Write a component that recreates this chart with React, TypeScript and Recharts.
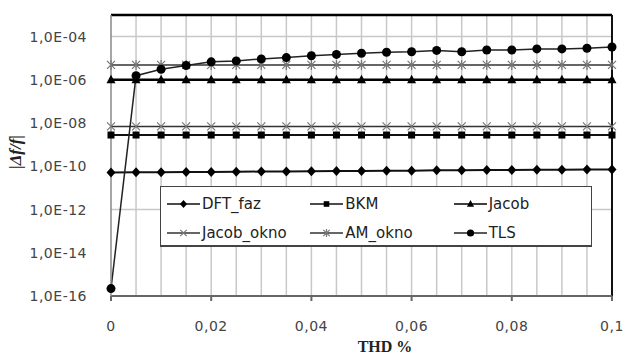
import { LineChart, Line, XAxis, YAxis, ReferenceLine, CartesianGrid } from 'recharts';

const thd = [0, 0.005, 0.01, 0.015, 0.02, 0.025, 0.03, 0.035, 0.04, 0.045, 0.05, 0.055, 0.06, 0.065, 0.07, 0.075, 0.08, 0.085, 0.09, 0.095, 0.1];
const dftFaz = [5.2e-11, 5.3e-11, 5.3e-11, 5.4e-11, 5.5e-11, 5.6e-11, 5.7e-11, 5.8e-11, 5.9e-11, 6.0e-11, 6.1e-11, 6.2e-11, 6.3e-11, 6.5e-11, 6.6e-11, 6.7e-11, 6.8e-11, 6.9e-11, 7.0e-11, 7.1e-11, 7.2e-11];
const bkm = [2.8e-9, 2.8e-9, 2.8e-9, 2.8e-9, 2.8e-9, 2.8e-9, 2.8e-9, 2.8e-9, 2.8e-9, 2.8e-9, 2.8e-9, 2.8e-9, 2.8e-9, 2.8e-9, 2.8e-9, 2.8e-9, 2.8e-9, 2.8e-9, 2.8e-9, 2.8e-9, 2.8e-9];
const jacob = [1e-6, 1e-6, 1e-6, 1e-6, 1e-6, 1e-6, 1e-6, 1e-6, 1e-6, 1e-6, 1e-6, 1e-6, 1e-6, 1e-6, 1e-6, 1e-6, 1e-6, 1e-6, 1e-6, 1e-6, 1e-6];
const jacobOkno = [7e-9, 7e-9, 7e-9, 7e-9, 7e-9, 7e-9, 7e-9, 7e-9, 7e-9, 7e-9, 7e-9, 7e-9, 7e-9, 7e-9, 7e-9, 7e-9, 7e-9, 7e-9, 7e-9, 7e-9, 7e-9];
const amOkno = [4.9e-6, 4.9e-6, 4.9e-6, 4.9e-6, 4.9e-6, 4.9e-6, 4.9e-6, 4.9e-6, 4.9e-6, 4.9e-6, 4.9e-6, 4.9e-6, 4.9e-6, 4.9e-6, 4.9e-6, 4.9e-6, 4.9e-6, 4.9e-6, 4.9e-6, 4.9e-6, 4.9e-6];
const tls = [2.2e-16, 1.56e-6, 3.1e-6, 4.6e-6, 6.8e-6, 7.5e-6, 9.3e-6, 1.07e-5, 1.3e-5, 1.5e-5, 1.7e-5, 1.9e-5, 2.0e-5, 2.3e-5, 2.0e-5, 2.4e-5, 2.4e-5, 2.7e-5, 2.7e-5, 2.9e-5, 3.3e-5];

const xTicks = [0, 0.02, 0.04, 0.06, 0.08, 0.1];
const yTicks = [1e-16, 1e-14, 1e-12, 1e-10, 1e-8, 1e-6, 1e-4];
const gridX = [0.005, 0.01, 0.015, 0.02, 0.025, 0.03, 0.035, 0.04, 0.045, 0.05, 0.055, 0.06, 0.065, 0.07, 0.075, 0.08, 0.085, 0.09, 0.095];
const gridY = [1e-4, 1e-12];

const data = thd.map((x, i) => ({
  x,
  dftFaz: dftFaz[i],
  bkm: bkm[i],
  jacob: jacob[i],
  jacobOkno: jacobOkno[i],
  amOkno: amOkno[i],
  tls: tls[i],
}));

type Shape = 'diamond' | 'square' | 'triangle' | 'cross' | 'star' | 'circle';

const series: { key: string; name: string; shape: Shape; stroke: string; width: number; mark: string }[] = [
  { key: 'dftFaz', name: 'DFT_faz', shape: 'diamond', stroke: '#111', width: 2, mark: '#000' },
  { key: 'bkm', name: 'BKM', shape: 'square', stroke: '#111', width: 2, mark: '#000' },
  { key: 'jacob', name: 'Jacob', shape: 'triangle', stroke: '#000', width: 2.5, mark: '#000' },
  { key: 'jacobOkno', name: 'Jacob_okno', shape: 'cross', stroke: '#333', width: 1.5, mark: '#777' },
  { key: 'amOkno', name: 'AM_okno', shape: 'star', stroke: '#333', width: 1.5, mark: '#777' },
  { key: 'tls', name: 'TLS', shape: 'circle', stroke: '#222', width: 1.5, mark: '#000' },
];

const font = "'DejaVu Sans', sans-serif";

function marker(shape: Shape, cx: number, cy: number, color: string, s = 1) {
  switch (shape) {
    case 'diamond':
      return <polygon points={`${cx},${cy - 5 * s} ${cx + 4.5 * s},${cy} ${cx},${cy + 5 * s} ${cx - 4.5 * s},${cy}`} fill={color} />;
    case 'square':
      return <rect x={cx - 3.5 * s} y={cy - 3.5 * s} width={7 * s} height={7 * s} fill={color} />;
    case 'triangle':
      return <polygon points={`${cx},${cy - 5 * s} ${cx + 4.5 * s},${cy + 3.5 * s} ${cx - 4.5 * s},${cy + 3.5 * s}`} fill={color} />;
    case 'cross':
      return <path d={`M${cx - 4 * s},${cy - 4 * s}L${cx + 4 * s},${cy + 4 * s}M${cx + 4 * s},${cy - 4 * s}L${cx - 4 * s},${cy + 4 * s}`} stroke={color} strokeWidth={1.2} />;
    case 'star':
      return <path d={`M${cx - 4 * s},${cy - 4 * s}L${cx + 4 * s},${cy + 4 * s}M${cx + 4 * s},${cy - 4 * s}L${cx - 4 * s},${cy + 4 * s}M${cx},${cy - 5 * s}L${cx},${cy + 5 * s}`} stroke={color} strokeWidth={1.2} />;
    default:
      return <circle cx={cx} cy={cy} r={4.5 * s} fill={color} />;
  }
}

const fmtY = (v: number) => {
  const e = Math.round(Math.log10(v));
  return `1,0E-${String(-e).padStart(2, '0')}`;
};

const fmtX = (v: number) => (v === 0 ? '0' : String(Number(v.toFixed(2))).replace('.', ','));

function LegendBox() {
  const rows = [series.slice(0, 3), series.slice(3, 6)];
  return (
    <div style={{ position: 'absolute', left: 160, top: 186, width: 432, height: 61, border: '1px solid #444', borderBottomWidth: 2, background: '#fff', boxSizing: 'border-box', fontFamily: font, fontSize: 15, color: '#222' }}>
      {rows.map((row, r) => (
        <div key={r} style={{ display: 'flex', height: 29, alignItems: 'center', marginTop: r === 0 ? 2 : 0 }}>
          {row.map((s) => (
            <div key={s.key} style={{ width: 144, display: 'flex', alignItems: 'center', paddingLeft: 6 }}>
              <svg width={33} height={14}>
                <line x1={0} y1={7} x2={33} y2={7} stroke={s.stroke} strokeWidth={1.5} />
                {marker(s.shape, 16.5, 7, s.mark, 0.8)}
              </svg>
              <span style={{ marginLeft: 2 }}>{s.name}</span>
            </div>
          ))}
        </div>
      ))}
    </div>
  );
}

export default function App() {
  return (
    <div style={{ position: 'absolute', left: 0, top: 0, width: 627, height: 356, background: '#fff' }}>
      <LineChart width={627} height={356} data={data} margin={{ top: 15, right: 15, bottom: 0, left: 0 }}>
        <CartesianGrid
          stroke="#c8c8c8"
          strokeWidth={1.5}
          verticalValues={gridX}
          horizontalValues={gridY}
        />
        <ReferenceLine y={1e-3} stroke="#000" strokeWidth={2.5} />
        <ReferenceLine x={0.1} stroke="#111" strokeWidth={2} />
        <XAxis
          dataKey="x"
          type="number"
          domain={[0, 0.1]}
          ticks={xTicks}
          tickFormatter={fmtX}
          height={60}
          stroke="#666"
          strokeWidth={2}
          tickSize={5}
          tickMargin={20}
          tick={{ fill: '#444', fontSize: 14, fontFamily: font, letterSpacing: 0.5 }}
          interval={0}
        />
        <YAxis
          scale="log"
          type="number"
          domain={[1e-16, 1e-3]}
          ticks={yTicks}
          tickFormatter={fmtY}
          allowDataOverflow
          width={111}
          stroke="#888"
          strokeWidth={1.5}
          tickLine={false}
          tickMargin={18}
          tick={{ fill: '#444', fontSize: 14, fontFamily: font, letterSpacing: 0.5 }}
          interval={0}
        />
        {series.map((s) => (
          <Line
            key={s.key}
            dataKey={s.key}
            name={s.name}
            type="linear"
            stroke={s.stroke}
            strokeWidth={s.width}
            isAnimationActive={false}
            dot={(p: any) => <g key={`${s.key}-${p.index}`}>{marker(s.shape, p.cx, p.cy, s.mark)}</g>}
            activeDot={false}
          />
        ))}
        <text x={15} y={152} transform="rotate(-90 15 152)" textAnchor="middle" dominantBaseline="central" fontFamily="'Liberation Serif', serif" fontStyle="italic" fontWeight="bold" fontSize={17} fill="#222">
          |Δf/f|
        </text>
        <text x={385} y={346} textAnchor="middle" dominantBaseline="central" fontFamily="'Liberation Serif', serif" fontWeight="bold" fontSize={16} fill="#222">
          THD %
        </text>
      </LineChart>
      <LegendBox />
    </div>
  );
}
